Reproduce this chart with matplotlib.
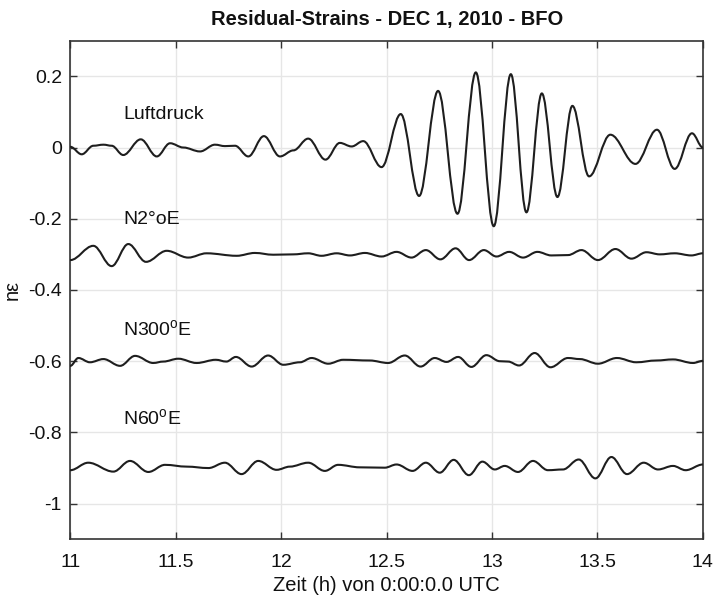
import matplotlib
matplotlib.use("Agg")
import matplotlib.pyplot as plt
from matplotlib.path import Path
from matplotlib.patches import PathPatch

plt.rcParams['font.family'] = ['Liberation Sans', 'DejaVu Sans']
plt.rcParams['mathtext.fontset'] = 'custom'
plt.rcParams['mathtext.rm'] = 'Liberation Sans'
plt.rcParams['mathtext.it'] = 'Liberation Sans'

# ---------------- data ----------------
title = "Residual-Strains - DEC 1, 2010 - BFO"
xlabel = "Zeit (h) von 0:00:0.0 UTC"
ylabel = "nε"
xticks = [11, 11.5, 12, 12.5, 13, 13.5, 14]
xticklabels = ["11", "11.5", "12", "12.5", "13", "13.5", "14"]
yticks = [-1, -0.8, -0.6, -0.4, -0.2, 0, 0.2]
yticklabels = ["-1", "-0.8", "-0.6", "-0.4", "-0.2", "0", "0.2"]

trace_names = ["Luftdruck", "N2°oE", "N300$^{\\mathrm{o}}$E", "N60$^{\\mathrm{o}}$E"]
offsets = [0.0, -0.3, -0.6, -0.9]
label_y = [0.094, -0.203, -0.51, -0.76]
label_x = 11.25

t_luft = [11.0, 11.054, 11.109, 11.157, 11.196, 11.251, 11.334, 11.41, 11.473, 11.536,
          11.615, 11.686, 11.733, 11.781, 11.844, 11.918, 11.994, 12.058, 12.128, 12.21,
          12.278, 12.334, 12.389, 12.476, 12.567, 12.654, 12.744, 12.836, 12.923, 13.008,
          13.089, 13.163, 13.236, 13.31, 13.381, 13.46, 13.561, 13.68, 13.782, 13.866,
          13.948, 14.0]
v_luft = [0.002, -0.019, 0.005, 0.008, 0.005, -0.021, 0.023, -0.025, 0.012, 0.0,
          -0.011, 0.008, 0.004, 0.005, -0.025, 0.032, -0.025, -0.008, 0.025, -0.034,
          0.013, 0.003, 0.018, -0.055, 0.094, -0.136, 0.159, -0.186, 0.211, -0.221,
          0.206, -0.182, 0.152, -0.139, 0.117, -0.081, 0.036, -0.046, 0.050, -0.060,
          0.040, 0.0]

t_n2 = [11.0, 11.109, 11.196, 11.275, 11.359, 11.457, 11.559, 11.646, 11.789, 11.875,
        11.962, 12.057, 12.128, 12.191, 12.263, 12.326, 12.397, 12.476, 12.547, 12.618,
        12.686, 12.755, 12.827, 12.891, 12.961, 13.021, 13.081, 13.147, 13.215, 13.281,
        13.36, 13.424, 13.502, 13.585, 13.661, 13.732, 13.795, 13.866, 13.945, 14.0]
v_n2 = [-0.016, 0.024, -0.033, 0.029, -0.021, 0.010, -0.009, 0.003, -0.004, 0.004,
        -0.001, 0.0, 0.003, -0.004, 0.003, -0.003, 0.004, -0.006, 0.007, -0.009,
        0.012, -0.014, 0.017, -0.016, 0.012, -0.006, 0.007, -0.009, 0.007, -0.003,
        -0.002, 0.012, -0.016, 0.015, -0.012, 0.006, 0.0, 0.003, -0.003, 0.003]

t_n300 = [11.0, 11.038, 11.093, 11.157, 11.236, 11.307, 11.393, 11.441, 11.512, 11.599,
          11.69, 11.74, 11.785, 11.86, 11.938, 12.01, 12.089, 12.144, 12.223, 12.294,
          12.42, 12.507, 12.586, 12.661, 12.728, 12.784, 12.839, 12.902, 12.973, 13.037,
          13.076, 13.128, 13.202, 13.277, 13.36, 13.416, 13.502, 13.592, 13.684, 13.779,
          13.858, 13.953, 14.0]
v_n300 = [-0.013, 0.009, -0.003, 0.006, -0.013, 0.015, -0.005, -0.001, 0.007, -0.005,
          0.004, -0.001, 0.012, -0.015, 0.016, -0.010, -0.003, 0.009, -0.007, 0.004,
          0.002, -0.005, 0.016, -0.015, 0.009, -0.002, 0.012, -0.016, 0.017, 0.0,
          -0.001, -0.012, 0.023, -0.017, 0.009, 0.006, -0.007, 0.009, -0.003, 0.002,
          0.005, -0.005, 0.001]

t_n60 = [11.0, 11.085, 11.204, 11.283, 11.37, 11.449, 11.552, 11.655, 11.733, 11.812,
         11.891, 11.978, 12.041, 12.128, 12.207, 12.27, 12.373, 12.491, 12.547, 12.623,
         12.686, 12.752, 12.818, 12.89, 12.954, 13.013, 13.06, 13.123, 13.194, 13.265,
         13.336, 13.411, 13.49, 13.566, 13.64, 13.719, 13.787, 13.858, 13.918, 14.0]
v_n60 = [-0.006, 0.015, -0.010, 0.020, -0.011, 0.009, 0.004, 0.0, 0.015, -0.017,
         0.020, -0.005, 0.004, 0.015, -0.008, 0.009, 0.002, 0.001, 0.010, -0.008,
         0.015, -0.013, 0.023, -0.020, 0.018, -0.004, 0.006, -0.011, 0.020, -0.006,
         -0.004, 0.024, -0.029, 0.031, -0.017, 0.015, -0.004, 0.006, -0.006, 0.010]

times = [t_luft, t_n2, t_n300, t_n60]
values = [v_luft, v_n2, v_n300, v_n60]

# ---------------- styling ----------------
line_color = "#1e1e1e"
grid_color = "#e6e6e6"
spine_color = "#333333"


def smooth_path(t, v, off):
    """Cubic Bezier path through the read points with level tangents at each point."""
    verts = [(t[0], v[0] + off)]
    codes = [Path.MOVETO]
    for i in range(len(t) - 1):
        d = 0.3634 * (t[i + 1] - t[i])
        verts += [(t[i] + d, v[i] + off), (t[i + 1] - d, v[i + 1] + off),
                  (t[i + 1], v[i + 1] + off)]
        codes += [Path.CURVE4] * 3
    return Path(verts, codes)


fig = plt.figure(figsize=(7.14, 6.01), dpi=100)
ax = fig.add_axes([0.0985, 0.1027, 0.886, 0.8296])

for t, v, off in zip(times, values, offsets):
    patch = PathPatch(smooth_path(t, v, off), fill=False, edgecolor=line_color,
                      linewidth=1.5, capstyle='round', joinstyle='round', zorder=3)
    ax.add_patch(patch)

for name, ly in zip(trace_names, label_y):
    ax.text(label_x, ly, name, ha='left', va='center', fontsize=14, color='#111111')

ax.set_xlim(11, 14)
ax.set_ylim(-1.1, 0.3)
ax.set_xticks(xticks)
ax.set_xticklabels(xticklabels)
ax.set_yticks(yticks)
ax.set_yticklabels(yticklabels)
ax.tick_params(direction='in', length=5, width=1.0, colors=spine_color,
               labelcolor='#111111', labelsize=14, top=True, right=True)
ax.tick_params(axis='x', pad=10.5)
ax.tick_params(axis='y', pad=6)
ax.grid(True, color=grid_color, linewidth=1.0, zorder=0)
ax.set_axisbelow(True)
for s in ax.spines.values():
    s.set_color(spine_color)
    s.set_linewidth(1.2)

ax.set_title(title, fontsize=14.5, fontweight='bold', pad=11.5, color='#111111')
ax.set_xlabel(xlabel, fontsize=14.5, color='#111111')
ax.xaxis.set_label_coords(0.5, -0.074)
ax.set_ylabel(ylabel, fontsize=14.5, color='#111111')
ax.yaxis.set_label_coords(-0.077, 0.5)

fig.savefig("out.png", dpi=100)
